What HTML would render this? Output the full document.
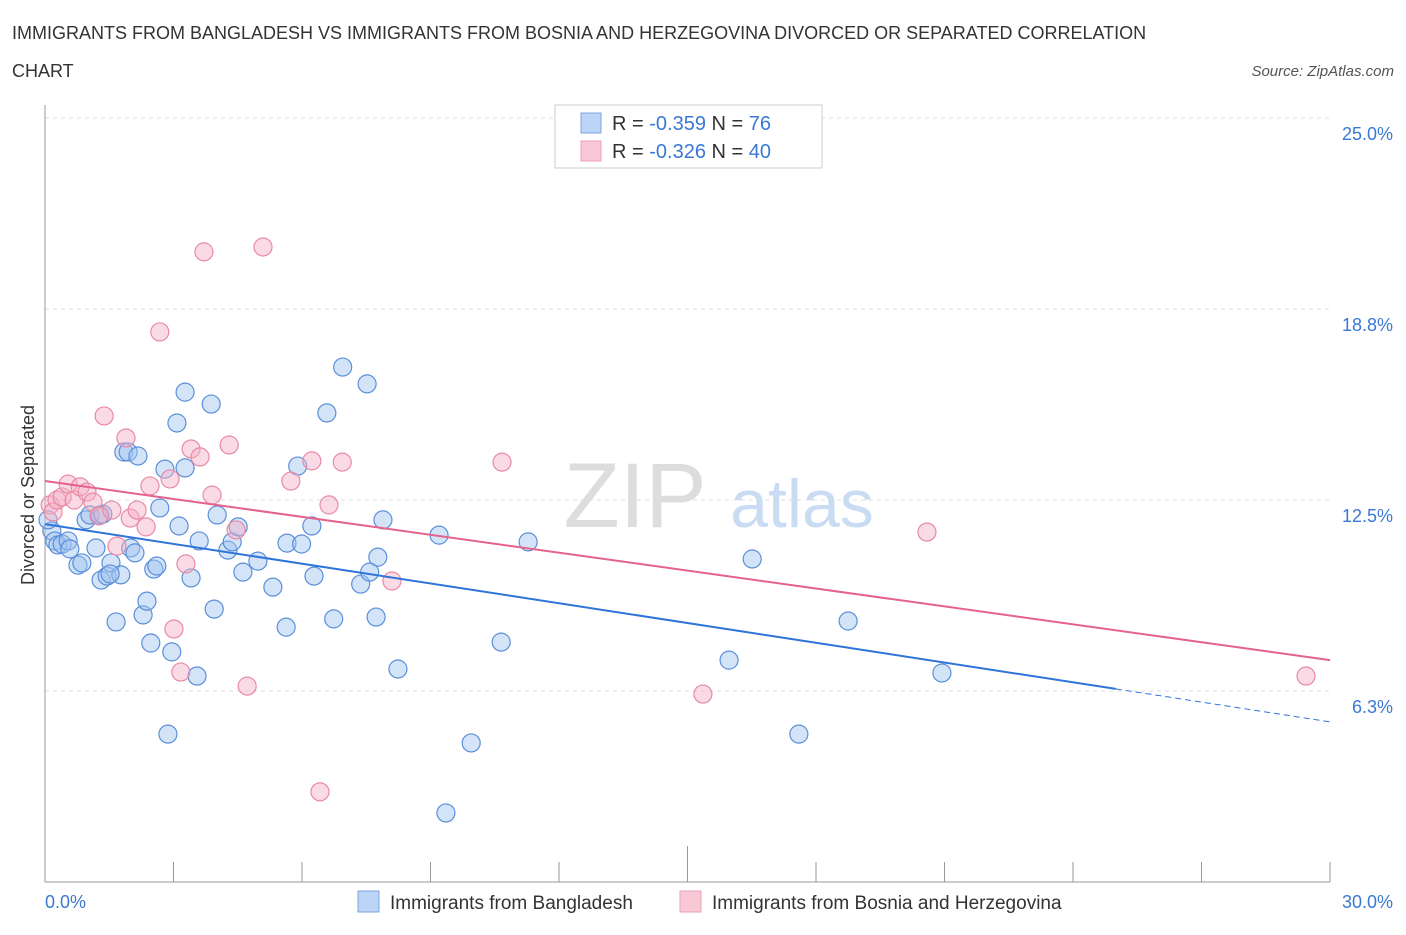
<!DOCTYPE html>
<html><head><meta charset="utf-8"><style>
body{margin:0;background:#fff;font-family:"Liberation Sans",sans-serif;}
svg text{font-family:"Liberation Sans",sans-serif;}
</style></head><body>
<svg width="1406" height="930" viewBox="0 0 1406 930">
<text x="12" y="39" font-size="18" fill="#333">IMMIGRANTS FROM BANGLADESH VS IMMIGRANTS FROM BOSNIA AND HERZEGOVINA DIVORCED OR SEPARATED CORRELATION</text>
<text x="12" y="77" font-size="18" fill="#333">CHART</text>
<text x="1394" y="76" font-size="15" fill="#555" text-anchor="end" font-style="italic">Source: ZipAtlas.com</text>
<g id="grid"></g>
<text x="635" y="527" font-size="92" fill="#ddd" font-family="Liberation Serif" text-anchor="middle">ZIP</text>
<text x="802" y="527" font-size="68" fill="#c9dcf3" text-anchor="middle">atlas</text>
<text transform="translate(34,495) rotate(-90)" font-size="18" fill="#333" text-anchor="middle">Divorced or Separated</text>
<g id="marks"></g>
<g>
<rect x="555" y="105" width="267" height="63" fill="#fff" stroke="#ccc"/>
<rect x="581" y="113" width="20" height="20" fill="#bcd4f6" stroke="#7aa6e0"/>
<rect x="581" y="141" width="20" height="20" fill="#f9c8d6" stroke="#eba0b7"/>
<text x="612" y="130" font-size="20" fill="#333">R = <tspan fill="#3a78d4">-0.359</tspan>   N =  <tspan fill="#3a78d4">76</tspan></text>
<text x="612" y="158" font-size="20" fill="#333">R = <tspan fill="#3a78d4">-0.326</tspan>   N = <tspan fill="#3a78d4">40</tspan></text>
</g>
<g>
<rect x="358" y="891" width="21" height="21" fill="#bcd4f6" stroke="#7aa6e0"/>
<text x="390" y="909" font-size="19" fill="#333">Immigrants from Bangladesh</text>
<rect x="680" y="891" width="21" height="21" fill="#f9c8d6" stroke="#eba0b7"/>
<text x="712" y="909" font-size="19" fill="#333">Immigrants from Bosnia and Herzegovina</text>
</g>
</svg>
<script>
const yTicks=[25.0,18.8,12.5,6.3];
const yTickVals=[25,18.75,12.5,6.25];
const xTickLabels=["0.0%","30.0%"];
const blueX=[0.16,0.23,0.30,0.40,0.54,0.58,0.77,0.86,0.96,1.05,1.19,1.31,1.45,1.54,1.66,1.77,1.84,1.94,2.00,2.10,2.17,2.29,2.38,2.47,2.54,2.61,2.68,2.80,2.87,2.96,3.08,3.13,3.27,3.27,3.41,3.55,3.60,3.88,3.95,4.02,4.27,4.37,4.51,4.62,4.97,5.32,5.63,5.65,5.90,5.99,6.23,6.28,6.58,6.74,6.95,7.37,7.52,7.58,7.73,7.77,7.89,8.24,9.20,9.95,9.36,10.65,11.28,15.97,16.51,17.60,18.75,20.94,0.07,1.28,1.52,1.35];
const blueY=[11.49,11.16,11.03,11.06,11.16,10.90,10.37,10.44,11.85,12.01,10.93,9.88,10.01,10.44,8.51,10.05,14.07,14.07,10.93,10.77,13.94,8.74,9.19,7.82,10.24,10.34,12.24,13.51,4.84,7.53,15.02,11.65,16.03,13.55,9.95,6.74,11.16,15.64,8.93,12.01,10.86,11.13,11.62,10.14,10.50,9.65,8.34,11.09,13.61,11.06,11.65,10.01,15.35,8.61,16.85,9.75,16.30,10.14,8.67,10.63,11.85,6.97,11.35,4.55,2.26,7.85,11.13,7.26,10.57,4.84,8.54,6.84,11.85,12.01,10.08,12.04];
const pinkX=[0.12,0.19,0.28,0.40,0.54,0.68,0.82,0.98,1.12,1.26,1.38,1.56,1.68,1.89,1.99,2.15,2.36,2.45,2.68,2.92,3.01,3.17,3.29,3.41,3.62,3.71,3.90,4.30,4.46,4.72,5.09,5.74,6.23,6.42,6.63,6.94,8.10,10.67,15.36,20.59,29.44];
const pinkY=[12.34,12.11,12.50,12.60,13.02,12.50,12.93,12.76,12.43,11.98,15.25,12.17,10.99,14.53,11.91,12.17,11.62,12.96,18.00,13.19,8.28,6.87,10.41,14.17,13.91,20.62,12.66,14.30,11.52,6.41,20.78,13.12,13.78,2.95,12.34,13.74,9.85,13.74,6.15,11.45,6.74];
const blueTrend=[11.71,5.24];
const pinkTrend=[13.12,7.26];
const NS="http://www.w3.org/2000/svg";
const X=v=>45+v*(1285/30), Y=v=>882-v*(573/18.75);
function mk(t,a,p){const e=document.createElementNS(NS,t);for(const k in a)e.setAttribute(k,a[k]);p.appendChild(e);return e;}
const grid=document.getElementById('grid'), marks=document.getElementById('marks');
yTickVals.forEach((v,i)=>{
 const l=mk('line',{x1:45,x2:1330,y1:Y(v),y2:Y(v),stroke:'#ddd','stroke-dasharray':'4,4'},grid);
 
 
 const t=mk('text',{x:1393,y:Y(v)+22,'font-size':18,fill:'#3a78d4','text-anchor':'end'},grid);
 t.textContent=yTicks[i].toFixed(1)+'%';
 
 
});
const ya=mk('line',{x1:45,x2:45,y1:105,y2:882,stroke:'#999'},grid);


const xa=mk('line',{x1:45,x2:1330,y1:882,y2:882,stroke:'#999'},grid);


for(let i=0;i<=10;i++){const tk=mk('line',{x1:X(i*3),x2:X(i*3),y1:i==5?846:862,y2:882,stroke:'#999'},grid);
 
 }
[[0,'start',45],[30,'end',1393]].forEach((d,i)=>{const t=mk('text',{x:d[2],y:908,'font-size':18,fill:'#3a78d4','text-anchor':d[1]},grid);t.textContent=xTickLabels[i];
 
 });
function pts(xs,ys,fill,stroke,name){xs.forEach((x,i)=>{const c=mk('circle',{cx:X(x),cy:Y(ys[i]),r:9,fill:fill,stroke:stroke,'stroke-width':1.2},marks);
 
 });}
pts(blueX,blueY,'rgba(160,195,240,0.45)','#5b8fd9','bangladesh-point');
pts(pinkX,pinkY,'rgba(245,175,198,0.45)','#e88aa5','bosnia-point');
function yAt(tr,x){return tr[0]+(tr[1]-tr[0])*x/30;}
const b1=mk('line',{x1:X(0),y1:Y(blueTrend[0]),x2:X(25),y2:Y(yAt(blueTrend,25)),stroke:'#2f74d8','stroke-width':2},marks);


const b2=mk('line',{x1:X(25),y1:Y(yAt(blueTrend,25)),x2:X(30),y2:Y(blueTrend[1]),stroke:'#2f74d8','stroke-width':1,'stroke-dasharray':'6,4'},marks);


const p1=mk('line',{x1:X(0),y1:Y(pinkTrend[0]),x2:X(30),y2:Y(pinkTrend[1]),stroke:'#e5628c','stroke-width':2},marks);


</script>
</body></html>
